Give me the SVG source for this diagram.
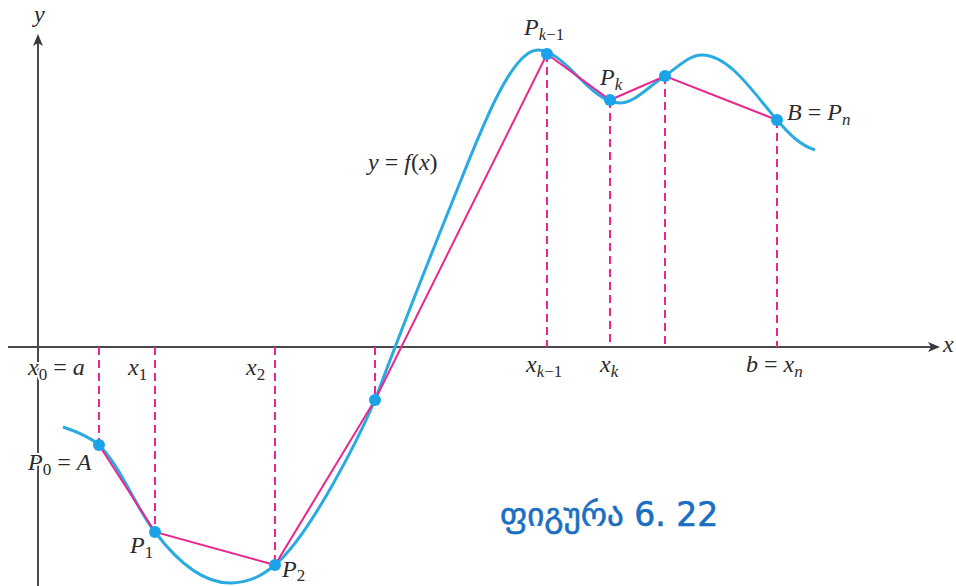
<svg xmlns="http://www.w3.org/2000/svg" width="956" height="586" viewBox="0 0 956 586">
<defs>
<marker id="arr" markerWidth="12" markerHeight="10" refX="10" refY="5" orient="auto" markerUnits="userSpaceOnUse">
<path d="M0,0 L12,5 L0,10 L3,5 Z" fill="#3a3a3a"/>
</marker>
</defs>
<style>
.axis{stroke:#4a4a4a;stroke-width:2;fill:none}
.dash{stroke:#ec268f;stroke-width:2;stroke-dasharray:8,5;fill:none}
.poly{stroke:#ec268f;stroke-width:2;fill:none}
.curve{stroke:#29abe2;stroke-width:3;fill:none}
.dot{fill:#1aa3e8}
.lbl{font-family:"Liberation Serif","Times New Roman","DejaVu Serif",serif;font-style:italic;font-size:24px;fill:#2a2a2a;stroke:#fff;stroke-width:4;paint-order:stroke}
.sub{font-size:17px}
.rm{font-style:normal}
.cap{font-family:"DejaVu Sans","Noto Sans",sans-serif;font-size:33px;fill:#1a6fc0;stroke:#1a6fc0;stroke-width:0.6}
</style>
<rect width="956" height="586" fill="#fff"/>
<g id="axes">
<line class="axis" x1="8" y1="347" x2="938" y2="347" marker-end="url(#arr)"/>
<line class="axis" x1="38" y1="586" x2="38" y2="36" marker-end="url(#arr)"/>
</g>
<g id="connectors">
<line class="dash" x1="99" y1="347" x2="99" y2="445"/>
<line class="dash" x1="155" y1="347" x2="155" y2="532"/>
<line class="dash" x1="275" y1="347" x2="275" y2="565"/>
<line class="dash" x1="375" y1="347" x2="375" y2="400"/>
<line class="dash" x1="547" y1="54" x2="547" y2="347"/>
<line class="dash" x1="610" y1="100" x2="610" y2="347"/>
<line class="dash" x1="665" y1="76" x2="665" y2="347"/>
<line class="dash" x1="777" y1="120" x2="777" y2="347"/>
<path class="curve" d="M63,427 C78,432 90,437 99,445 C120,465 137,510 155,532 C180,565 205,584 232,583 C252,582 264,574 275,565 C310,535 358,440 375,400 C390,360 428,262 453,200 C478,138 510,50 538,50 C565,50 590,103 620,103 C635,103 650,85 665,76 C680,65 690,55 702,55 C730,55 755,95 777,120 C790,135 800,145 815,150"/>
<polyline class="poly" points="99,445 155,532 275,565 375,400 547,54 610,100 665,76 777,120"/>
</g>
<g id="points">
<circle class="dot" cx="99" cy="445" r="6"/>
<circle class="dot" cx="155" cy="532" r="6"/>
<circle class="dot" cx="275" cy="565" r="6"/>
<circle class="dot" cx="375" cy="400" r="6"/>
<circle class="dot" cx="547" cy="54" r="6"/>
<circle class="dot" cx="610" cy="100" r="6"/>
<circle class="dot" cx="665" cy="76" r="6"/>
<circle class="dot" cx="777" cy="120" r="6"/>
</g>
<g id="labels">
<text class="lbl" x="34" y="22">y</text>
<text class="lbl" x="943" y="352">x</text>
<text class="lbl" x="28" y="375">x<tspan class="sub rm" dy="5">0</tspan><tspan class="rm" dy="-5"> = </tspan>a</text>
<text class="lbl" x="128" y="375">x<tspan class="sub rm" dy="5">1</tspan></text>
<text class="lbl" x="246" y="375">x<tspan class="sub rm" dy="5">2</tspan></text>
<text class="lbl" x="526" y="372">x<tspan class="sub" dy="5">k</tspan><tspan class="sub rm">−1</tspan></text>
<text class="lbl" x="600" y="372">x<tspan class="sub" dy="5">k</tspan></text>
<text class="lbl" x="746" y="372">b<tspan class="rm"> = </tspan>x<tspan class="sub" dy="5">n</tspan></text>
<text class="lbl" x="28" y="470">P<tspan class="sub rm" dy="5">0</tspan><tspan class="rm" dy="-5"> = </tspan>A</text>
<text class="lbl" x="130" y="553">P<tspan class="sub rm" dy="5">1</tspan></text>
<text class="lbl" x="282" y="577">P<tspan class="sub rm" dy="4">2</tspan></text>
<text class="lbl" x="524" y="35">P<tspan class="sub" dy="5">k</tspan><tspan class="sub rm">−1</tspan></text>
<text class="lbl" x="600" y="85">P<tspan class="sub" dy="5">k</tspan></text>
<text class="lbl" x="787" y="120">B<tspan class="rm"> = </tspan>P<tspan class="sub" dy="5">n</tspan></text>
<text class="lbl" x="368" y="170">y<tspan class="rm"> = </tspan>f<tspan class="rm">(</tspan>x<tspan class="rm">)</tspan></text>
</g>
<g id="caption">
<text class="cap" x="500" y="526">ფიგურა 6. 22</text>
</g>
</svg>
